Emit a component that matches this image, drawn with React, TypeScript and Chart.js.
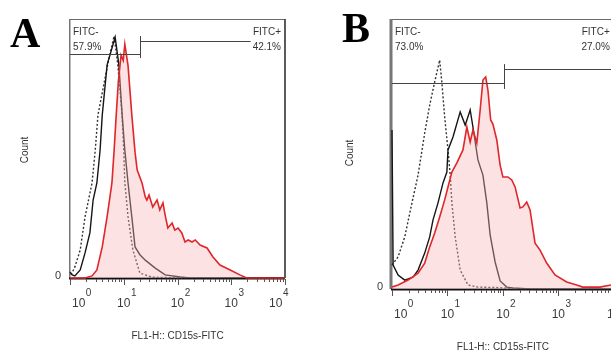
import React, { useEffect, useRef } from "react";
import { Chart, registerables } from "chart.js";

Chart.register(...registerables);

// ---------- Panel A data (x = log10 FL1-H, y = count, % of axis height) ----------
const A_RED_X = [0, 0.28, 0.41, 0.5, 0.6, 0.69, 0.78, 0.82, 0.86, 0.9, 0.95, 0.99, 1.02, 1.08, 1.15, 1.21, 1.25, 1.34, 1.4, 1.43, 1.47, 1.54, 1.62, 1.67, 1.73, 1.77, 1.82, 1.9, 1.95, 2.01, 2.08, 2.14, 2.2, 2.27, 2.33, 2.42, 2.55, 2.66, 2.79, 2.98, 3.16, 3.29, 4];
const A_RED_Y = [0, 0, 0.8, 3.1, 12, 23.6, 36.7, 49, 63, 76, 86, 84, 90.3, 82, 63, 48.6, 41.7, 36.7, 31.3, 30.1, 32, 27.4, 30.1, 26.3, 29, 24.3, 19.3, 21.2, 18.5, 19.3, 17.4, 13.9, 14.7, 13.9, 14.7, 12.7, 11.6, 8.1, 5, 3.1, 1.2, 0, 0];
const A_BLK_X = [0, 0.04, 0.09, 0.19, 0.28, 0.37, 0.43, 0.5, 0.56, 0.6, 0.69, 0.84, 0.91, 0.97, 1.02, 1.08, 1.15, 1.21, 1.3, 1.4, 1.58, 1.77, 2.05, 2.23, 4];
const A_BLK_Y = [2.3, 1.2, 0.8, 3.1, 9.7, 17.4, 30.1, 36.7, 49.4, 62.9, 82.2, 93, 82.2, 63, 49.4, 36.7, 23.6, 12, 9, 6.9, 3.9, 1.2, 0.4, 0, 0];
const A_DOT_X = [0.02, 0.09, 0.19, 0.28, 0.41, 0.47, 0.52, 0.71, 0.82, 0.89, 0.97, 1.0, 1.02, 1.08, 1.17, 1.3, 1.53, 1.77, 2.0, 4];
const A_DOT_Y = [1.2, 4.2, 10.8, 23.6, 36.7, 49.4, 62.9, 83.4, 93.4, 82.2, 62.9, 49.4, 36.7, 23.6, 10.8, 1.9, 0.3, 0.2, 0, 0];
const A_PCT = ["57.9%", "42.1%"];
const A_GATE = { split: 1.3, negY: 86.5, posY: 91.5, capTop: 93.4, capBottom: 84.9 };

// ---------- Panel B data ----------
const B_RED_X = [0, 0.11, 0.29, 0.47, 0.59, 0.68, 0.77, 0.86, 0.95, 1.01, 1.08, 1.17, 1.28, 1.35, 1.41, 1.46, 1.53, 1.59, 1.64, 1.69, 1.73, 1.78, 1.82, 1.89, 1.95, 2.0, 2.09, 2.16, 2.22, 2.31, 2.36, 2.43, 2.49, 2.58, 2.67, 2.79, 2.94, 3.15, 3.33, 3.44, 3.75, 3.95];
const B_RED_Y = [0.7, 1.5, 3.3, 5.9, 9.6, 15.6, 20.7, 26.7, 33, 37.8, 43.3, 46.7, 51.5, 60, 54.4, 58.9, 54.1, 66.3, 77.4, 78.5, 73.7, 62.6, 61.1, 55.2, 45.9, 41.5, 41.5, 40.4, 37.8, 30, 30.4, 32.2, 29.3, 17, 14.4, 9.6, 5.2, 2.6, 1.5, 0.7, 0.7, 1.5];
const B_BLK_X = [0, 0.02, 0.11, 0.23, 0.38, 0.47, 0.59, 0.68, 0.74, 0.83, 0.92, 0.99, 1.01, 1.1, 1.23, 1.32, 1.41, 1.46, 1.55, 1.64, 1.71, 1.77, 1.86, 1.95, 2.07, 2.18, 2.49, 3.95];
const B_BLK_Y = [58.9, 8.9, 5.2, 3.3, 4.4, 7, 13.3, 19.3, 25.6, 31.9, 39.3, 43.3, 51.5, 56.3, 65.6, 60.7, 66.3, 60, 47.8, 42.2, 31.9, 20, 10, 3, 0.7, 0.4, 0, 0];
const B_DOT_X = [0, 0.11, 0.23, 0.36, 0.47, 0.59, 0.68, 0.77, 0.86, 0.9, 0.95, 1.01, 1.05, 1.08, 1.14, 1.23, 1.37, 1.55, 1.95, 2.13, 2.31, 3.95];
const B_DOT_Y = [8.9, 11.9, 19.3, 31.9, 42.2, 57.8, 68.1, 76.7, 84.8, 76.3, 63.7, 51.5, 42.2, 31.9, 19.3, 7, 1.5, 0.7, 0.5, 0.2, 0, 0];
const B_PCT = ["73.0%", "27.0%"];
const B_GATE = { split: 2.02, negY: 76.3, posY: 81.5, capTop: 83.3, capBottom: 74.1 };

// ---------- Axis / text ----------
const DECADES = [0, 1, 2, 3, 4];
const MINORS = [2, 3, 4, 5, 6, 7, 8, 9];
const X_TITLE = "FL1-H:: CD15s-FITC";
const Y_TITLE = "Count";
const GATE_NAMES = ["FITC-", "FITC+"];

const SANS = '"Liberation Sans", Arial, sans-serif';

type Panel = {
  letter: string;
  redX: number[]; redY: number[];
  blkX: number[]; blkY: number[];
  dotX: number[]; dotY: number[];
  pct: string[];
  gate: { split: number; negY: number; posY: number; capTop: number; capBottom: number };
  xMax: number;
  padding: { left: number; right: number; top: number; bottom: number };
  letterPos: [number, number];
  countPos: [number, number];
  leftFrameWidth: number;
};

const zip = (xs: number[], ys: number[]) => xs.map((x, i) => ({ x, y: ys[i] }));

function panelPlugin(p: Panel) {
  return {
    id: "panel" + p.letter,
    beforeDatasetsDraw(chart: any) {
      const { ctx, chartArea } = chart;
      const { left, top } = chartArea;
      const x = chart.scales.x;
      const y = chart.scales.y;
      const xr = x.getPixelForValue(4);
      const y0 = y.getPixelForValue(0);
      ctx.save();
      // frame
      ctx.strokeStyle = "#6a6a6a";
      ctx.lineWidth = 1;
      ctx.beginPath();
      ctx.moveTo(left, top + 0.5);
      ctx.lineTo(xr, top + 0.5);
      ctx.stroke();
      ctx.strokeStyle = "#333";
      ctx.lineWidth = 1.6;
      ctx.beginPath();
      ctx.moveTo(xr, top);
      ctx.lineTo(xr, y0);
      ctx.stroke();
      ctx.strokeStyle = "#777";
      ctx.lineWidth = p.leftFrameWidth;
      ctx.beginPath();
      ctx.moveTo(left - p.leftFrameWidth / 2 + 0.5, top);
      ctx.lineTo(left - p.leftFrameWidth / 2 + 0.5, y0);
      ctx.stroke();
      // x axis
      ctx.strokeStyle = "#111";
      ctx.lineWidth = 2;
      ctx.beginPath();
      ctx.moveTo(left - 1, y0 + 0.5);
      ctx.lineTo(xr, y0 + 0.5);
      ctx.stroke();
      ctx.strokeStyle = "#555";
      ctx.lineWidth = 1;
      for (const d of DECADES) {
        const px = Math.round(x.getPixelForValue(d)) + 0.5;
        ctx.beginPath();
        ctx.moveTo(px, y0 + 1);
        ctx.lineTo(px, y0 + 7);
        ctx.stroke();
        if (d < 4) {
          for (const m of MINORS) {
            const pm = Math.round(x.getPixelForValue(d + Math.log10(m))) + 0.5;
            ctx.beginPath();
            ctx.moveTo(pm, y0 + 1);
            ctx.lineTo(pm, y0 + 4);
            ctx.stroke();
          }
        }
      }
      ctx.restore();
    },
    afterDatasetsDraw(chart: any) {
      const { ctx, chartArea } = chart;
      const { left, right } = chartArea;
      const x = chart.scales.x;
      const y = chart.scales.y;
      const xr = x.getPixelForValue(4);
      const y0 = y.getPixelForValue(0);
      ctx.save();
      // gates
      const xs = Math.round(x.getPixelForValue(p.gate.split)) + 0.5;
      const yn = Math.round(y.getPixelForValue(p.gate.negY)) + 0.5;
      const yp = Math.round(y.getPixelForValue(p.gate.posY)) + 0.5;
      ctx.strokeStyle = "#444";
      ctx.lineWidth = 1;
      ctx.beginPath();
      ctx.moveTo(left, yn);
      ctx.lineTo(xs, yn);
      ctx.moveTo(xs, yp);
      ctx.lineTo(xr, yp);
      ctx.moveTo(xs, y.getPixelForValue(p.gate.capTop));
      ctx.lineTo(xs, y.getPixelForValue(p.gate.capBottom));
      ctx.stroke();
      // gate labels
      ctx.font = "10px " + SANS;
      ctx.fillStyle = "#333";
      ctx.textBaseline = "alphabetic";
      ctx.textAlign = "left";
      ctx.fillText(GATE_NAMES[0], left + 3, chartArea.top + 16);
      ctx.fillText(p.pct[0], left + 3, chartArea.top + 31);
      const rx = xr - 4;
      const w = ctx.measureText(p.pct[1]).width;
      ctx.fillStyle = "#fff";
      ctx.fillRect(rx - w - 2, chartArea.top + 21, w + 5, 12);
      ctx.fillStyle = "#333";
      ctx.textAlign = "right";
      ctx.fillText(GATE_NAMES[1], rx, chartArea.top + 16);
      ctx.fillText(p.pct[1], rx, chartArea.top + 31);
      // x tick labels 10^n
      ctx.textAlign = "left";
      ctx.fillStyle = "#3a3a3a";
      for (const d of DECADES) {
        const px = x.getPixelForValue(d);
        ctx.font = "12px " + SANS;
        const w10 = ctx.measureText("10").width;
        ctx.font = "10px " + SANS;
        const ws = ctx.measureText(String(d)).width;
        let start = px - w10 / 2;
        if (d === x.min) start = Math.max(start, left + 2);
        if (d === x.max) start = Math.min(start, right + 3 - w10 - ws);
        ctx.font = "12px " + SANS;
        ctx.fillText("10", start, y0 + 29);
        ctx.font = "10px " + SANS;
        ctx.fillText(String(d), start + w10 + 0.5, y0 + 18);
      }
      // y tick label
      ctx.font = "11px " + SANS;
      ctx.textAlign = "right";
      ctx.textBaseline = "middle";
      ctx.fillText("0", left - 9, y0 - 2);
      // axis titles
      ctx.font = "10px " + SANS;
      ctx.textAlign = "center";
      ctx.fillStyle = "#333";
      ctx.fillText(X_TITLE, (x.getPixelForValue(0) + xr) / 2, y0 + 58);
      ctx.save();
      ctx.translate(p.countPos[0], p.countPos[1]);
      ctx.rotate(-Math.PI / 2);
      ctx.fillText(Y_TITLE, 0, 0);
      ctx.restore();
      // panel letter
      ctx.font = 'bold 42px "Liberation Serif", "Times New Roman", serif';
      ctx.fillStyle = "#000";
      ctx.textAlign = "left";
      ctx.textBaseline = "alphabetic";
      ctx.fillText(p.letter, p.letterPos[0], p.letterPos[1]);
      ctx.restore();
    },
  };
}

function makeChart(canvas: HTMLCanvasElement, p: Panel) {
  const clip = { left: 3, right: 3, top: 3, bottom: 4 };
  return new Chart(canvas, {
    type: "line",
    data: {
      datasets: [
        {
          label: "isotype",
          data: zip(p.dotX, p.dotY),
          borderColor: "#333",
          borderWidth: 1.4,
          borderDash: [2, 2],
          pointRadius: 0,
          fill: false,
          order: 3,
          clip,
        },
        {
          label: "control",
          data: zip(p.blkX, p.blkY),
          borderColor: "#151515",
          borderWidth: 1.4,
          pointRadius: 0,
          fill: false,
          order: 2,
          clip,
        },
        {
          label: "CD15s",
          data: zip(p.redX, p.redY),
          borderColor: "#e0262a",
          borderWidth: 1.6,
          pointRadius: 0,
          fill: "origin",
          backgroundColor: "rgba(247,182,182,0.4)",
          order: 1,
          clip,
        },
      ],
    } as any,
    options: {
      animation: false,
      responsive: false,
      devicePixelRatio: 1,
      layout: { padding: p.padding },
      elements: { line: { tension: 0 } },
      plugins: { legend: { display: false }, tooltip: { enabled: false } },
      scales: {
        x: { type: "linear", min: 0, max: p.xMax, display: false },
        y: { type: "linear", min: 0, max: 100, display: false },
      },
    } as any,
    plugins: [panelPlugin(p) as any],
  });
}

const PANEL_A: Panel = {
  letter: "A",
  redX: A_RED_X, redY: A_RED_Y,
  blkX: A_BLK_X, blkY: A_BLK_Y,
  dotX: A_DOT_X, dotY: A_DOT_Y,
  pct: A_PCT,
  gate: A_GATE,
  xMax: 4,
  padding: { left: 70, right: 15, top: 19, bottom: 74 },
  letterPos: [10, 47],
  countPos: [25, 150],
  leftFrameWidth: 1.5,
};

const PANEL_B: Panel = {
  letter: "B",
  redX: B_RED_X, redY: B_RED_Y,
  blkX: B_BLK_X, blkY: B_BLK_Y,
  dotX: B_DOT_X, dotY: B_DOT_Y,
  pct: B_PCT,
  gate: B_GATE,
  xMax: 3.95,
  padding: { left: 92, right: 0, top: 19, bottom: 63 },
  letterPos: [42, 42],
  countPos: [50, 153],
  leftFrameWidth: 3,
};

export default function App() {
  const refA = useRef<HTMLCanvasElement>(null);
  const refB = useRef<HTMLCanvasElement>(null);
  useEffect(() => {
    const a = makeChart(refA.current!, PANEL_A);
    const b = makeChart(refB.current!, PANEL_B);
    return () => {
      a.destroy();
      b.destroy();
    };
  }, []);
  return (
    <div style={{ position: "fixed", left: 0, top: 0, width: 611, height: 352, background: "#fff", overflow: "hidden" }}>
      <canvas ref={refA} width={300} height={352} style={{ position: "absolute", left: 0, top: 0, width: 300, height: 352 }} />
      <canvas ref={refB} width={311} height={352} style={{ position: "absolute", left: 300, top: 0, width: 311, height: 352 }} />
    </div>
  );
}
